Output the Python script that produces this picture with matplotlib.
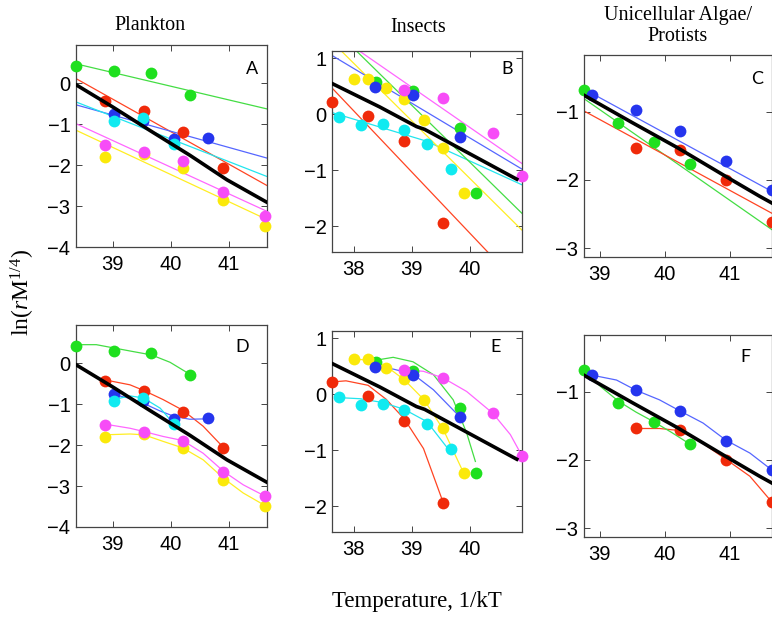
import matplotlib
matplotlib.use('Agg')
import matplotlib.pyplot as plt

# ---------------- Plankton (A / D) ----------------
pl_green_x = [38.37, 39.02, 39.67, 40.34]
pl_green_y = [0.42, 0.30, 0.24, -0.30]
pl_red_x = [38.87, 39.54, 40.21, 40.91]
pl_red_y = [-0.43, -0.68, -1.19, -2.06]
pl_blue_x = [39.02, 39.53, 40.06, 40.64]
pl_blue_y = [-0.75, -0.93, -1.37, -1.35]
pl_cyan_x = [39.02, 39.53, 40.06]
pl_cyan_y = [-0.93, -0.84, -1.49]
pl_mag_x = [38.87, 39.54, 40.21, 40.91, 41.63]
pl_mag_y = [-1.50, -1.67, -1.91, -2.66, -3.25]
pl_yel_x = [38.87, 39.54, 40.21, 40.91, 41.63]
pl_yel_y = [-1.80, -1.72, -2.06, -2.85, -3.48]

# linear fits (A), end points
pl_fit_x = [38.37, 41.66]
pl_fit_green = [0.47, -0.63]
pl_fit_red = [0.11, -2.50]
pl_fit_blue = [-0.53, -1.83]
pl_fit_cyan = [-0.46, -2.28]
pl_fit_mag = [-0.99, -3.13]
pl_fit_yel = [-1.15, -3.33]
pl_black_x = [38.37, 39.0, 39.67, 40.33, 40.97, 41.66]
pl_black_y = [-0.04, -0.58, -1.18, -1.76, -2.36, -2.91]

# curved fits (D)
pl_cg_x = [38.37, 38.72, 39.02, 39.36, 39.67, 39.99, 40.34]
pl_cg_y = [0.45, 0.45, 0.37, 0.28, 0.20, 0.02, -0.28]
pl_cr_x = [38.87, 39.30, 39.54, 39.87, 40.21, 40.56, 40.91]
pl_cr_y = [-0.41, -0.53, -0.67, -0.89, -1.15, -1.54, -2.06]
pl_cb_x = [39.02, 39.30, 39.53, 39.82, 40.06, 40.33, 40.64]
pl_cb_y = [-0.77, -0.86, -0.98, -1.17, -1.30, -1.37, -1.36]
pl_cc_x = [39.02, 39.30, 39.53, 39.82, 40.06]
pl_cc_y = [-0.89, -0.80, -0.85, -1.10, -1.49]
pl_cm_x = [38.87, 39.30, 39.54, 39.87, 40.21, 40.56, 40.91, 41.25, 41.63]
pl_cm_y = [-1.49, -1.59, -1.67, -1.79, -1.89, -2.20, -2.64, -2.97, -3.25]
pl_cy_x = [38.87, 39.30, 39.54, 39.87, 40.21, 40.56, 40.91, 41.25, 41.63]
pl_cy_y = [-1.75, -1.73, -1.75, -1.91, -2.07, -2.36, -2.81, -3.17, -3.48]

# ---------------- Insects (B / E) ----------------
in_red_x = [37.63, 38.25, 38.87, 39.54]
in_red_y = [0.22, -0.03, -0.47, -1.94]
in_cyan_x = [37.75, 38.12, 38.51, 38.87, 39.26, 39.67]
in_cyan_y = [-0.04, -0.20, -0.18, -0.28, -0.53, -0.97]
in_yel_x = [38.0, 38.25, 38.56, 38.87, 39.21, 39.54, 39.89]
in_yel_y = [0.63, 0.63, 0.47, 0.28, -0.11, -0.60, -1.41]
in_green_x = [38.39, 39.02, 39.82, 40.10]
in_green_y = [0.58, 0.42, -0.25, -1.41]
in_blue_x = [38.37, 39.02, 39.82]
in_blue_y = [0.48, 0.35, -0.40]
in_mag_x = [38.86, 39.54, 40.39, 40.89]
in_mag_y = [0.44, 0.29, -0.34, -1.10]

in_fit_red_x, in_fit_red_y = [37.63, 40.32], [0.47, -2.48]
in_fit_cyan_x, in_fit_cyan_y = [37.63, 39.25, 40.89], [0.03, -0.48, -1.26]
in_fit_yel_x, in_fit_yel_y = [37.79, 40.89], [1.13, -2.07]
in_fit_green_x, in_fit_green_y = [38.05, 40.89], [1.13, -1.77]
in_fit_blue_x, in_fit_blue_y = [37.63, 40.89], [1.05, -0.98]
in_fit_mag_x, in_fit_mag_y = [38.10, 40.89], [1.13, -0.88]
in_black_x = [37.63, 38.45, 39.08, 39.22, 40.80]
in_black_y = [0.55, 0.13, -0.22, -0.27, -1.16]

in_cr_x = [37.63, 37.87, 38.25, 38.56, 38.87, 39.20, 39.54]
in_cr_y = [0.22, 0.24, 0.16, -0.09, -0.44, -0.97, -1.94]
in_cc_x = [37.75, 38.12, 38.51, 38.87, 39.26, 39.67]
in_cc_y = [-0.06, -0.08, -0.15, -0.27, -0.49, -1.04]
in_cy_x = [38.0, 38.25, 38.56, 38.87, 39.21, 39.54, 39.89]
in_cy_y = [0.63, 0.61, 0.50, 0.26, -0.10, -0.63, -1.41]
in_cg_x = [38.39, 38.68, 39.02, 39.37, 39.71, 39.94, 40.09]
in_cg_y = [0.61, 0.66, 0.58, 0.35, -0.10, -0.69, -1.20]
in_cb_x = [38.37, 38.68, 39.02, 39.37, 39.82]
in_cb_y = [0.48, 0.45, 0.36, 0.08, -0.40]
in_cm_x = [38.85, 39.20, 39.54, 39.94, 40.39, 40.69, 40.89]
in_cm_y = [0.44, 0.41, 0.29, 0.05, -0.34, -0.72, -1.10]

# ---------------- Unicellular algae / protists (C / F) ----------------
al_green_x = [38.76, 39.29, 39.83, 40.39]
al_green_y = [-0.69, -1.16, -1.44, -1.77]
al_red_x = [39.56, 40.23, 40.94, 41.65]
al_red_y = [-1.54, -1.56, -2.00, -2.62]
al_blue_x = [38.89, 39.56, 40.23, 40.94, 41.65]
al_blue_y = [-0.75, -0.98, -1.29, -1.72, -2.15]

al_fit_x = [38.76, 41.65]
al_fit_green = [-0.81, -2.73]
al_fit_red = [-0.99, -2.49]
al_fit_blue = [-0.67, -2.17]
al_black_x = [38.76, 39.5, 40.2, 40.94, 41.46, 41.65]
al_black_y = [-0.76, -1.16, -1.53, -1.95, -2.24, -2.34]

al_cb_x = [38.89, 39.26, 39.56, 39.92, 40.23, 40.59, 40.94, 41.31, 41.65]
al_cb_y = [-0.76, -0.83, -0.98, -1.12, -1.28, -1.46, -1.71, -1.90, -2.15]
al_cr_x = [39.56, 39.92, 40.23, 40.59, 40.94, 41.31, 41.65]
al_cr_y = [-1.54, -1.54, -1.57, -1.76, -1.99, -2.24, -2.62]
al_cg_x = [38.76, 39.02, 39.29, 39.56, 39.83, 40.11, 40.39]
al_cg_y = [-0.69, -0.93, -1.14, -1.30, -1.44, -1.60, -1.77]

col_titles = ['Plankton', 'Insects', 'Unicellular Algae/\nProtists']

# colours
GREEN = '#1fe01f'
RED = '#f02a0a'
BLUE = '#2535ee'
CYAN = '#10eaf0'
MAG = '#f74cf7'
YEL = '#fbe90a'
LGREEN = '#44dd44'
LRED = '#ff4422'
LBLUE = '#5566ff'
LCYAN = '#22e5ee'
LMAG = '#ff66ff'
LYEL = '#ffee22'

plt.rcParams['font.family'] = ['Liberation Sans', 'DejaVu Sans']
plt.rcParams['mathtext.fontset'] = 'custom'
plt.rcParams['mathtext.rm'] = 'Liberation Serif'
plt.rcParams['mathtext.it'] = 'Liberation Serif:italic'

W, H = 772, 623
fig = plt.figure(figsize=(W / 100, H / 100), dpi=100)


def add_ax(l, r, t, b):
    return fig.add_axes([l / W, 1 - b / H, (r - l) / W, (b - t) / H])


def style(ax, xlim, ylim, xt, yt, letter, lx, ly):
    ax.set_xlim(xlim)
    ax.set_ylim(ylim)
    ax.set_xticks(xt)
    ax.set_yticks(yt)
    ax.tick_params(direction='in', top=True, right=True, length=4,
                   width=0.7, labelsize=14.5, color='#444444')
    ax.tick_params(axis='x', pad=6)
    ax.tick_params(axis='y', pad=4)
    for s in ax.spines.values():
        s.set_color('#444444')
        s.set_linewidth(0.9)
    ax.text(lx, ly, letter, transform=ax.transAxes, fontsize=13,
            family='Lato', ha='center', va='center')


def dots(ax, sets):
    for x, y, c in sets:
        ax.plot(x, y, 'o', color=c, markersize=8.5, markeredgewidth=0,
                clip_on=False, zorder=3)


def lines(ax, sets):
    for x, y, c in sets:
        ax.plot(x, y, '-', color=c, linewidth=0.9, zorder=2)


def black(ax, x, y):
    ax.plot(x, y, '-', color='black', linewidth=2.6, zorder=4)


pl_dots = [(pl_green_x, pl_green_y, GREEN), (pl_red_x, pl_red_y, RED),
           (pl_yel_x, pl_yel_y, YEL), (pl_blue_x, pl_blue_y, BLUE),
           (pl_cyan_x, pl_cyan_y, CYAN), (pl_mag_x, pl_mag_y, MAG)]
in_dots = [(in_green_x, in_green_y, GREEN), (in_red_x, in_red_y, RED),
           (in_yel_x, in_yel_y, YEL), (in_blue_x, in_blue_y, BLUE),
           (in_cyan_x, in_cyan_y, CYAN), (in_mag_x, in_mag_y, MAG)]
al_dots = [(al_green_x, al_green_y, GREEN), (al_red_x, al_red_y, RED),
           (al_blue_x, al_blue_y, BLUE)]

pl_lim = dict(xlim=(38.37, 41.66), ylim=(-4, 0.93), xt=[39, 40, 41], yt=[-4, -3, -2, -1, 0])
in_lim = dict(xlim=(37.63, 40.89), ylim=(-2.46, 1.13), xt=[38, 39, 40], yt=[-2, -1, 0, 1])
al_lim = dict(xlim=(38.76, 41.65), ylim=(-3.13, -0.17), xt=[39, 40, 41], yt=[-3, -2, -1])

# A
ax = add_ax(76, 267, 45, 247)
lines(ax, [(pl_fit_x, pl_fit_green, LGREEN), (pl_fit_x, pl_fit_red, LRED),
           (pl_fit_x, pl_fit_blue, LBLUE), (pl_fit_x, pl_fit_cyan, LCYAN),
           (pl_fit_x, pl_fit_mag, LMAG), (pl_fit_x, pl_fit_yel, LYEL)])
dots(ax, pl_dots)
black(ax, pl_black_x, pl_black_y)
style(ax, **pl_lim, letter='A', lx=0.92, ly=0.88)

# B
ax = add_ax(332, 522, 51, 252)
lines(ax, [(in_fit_red_x, in_fit_red_y, LRED), (in_fit_cyan_x, in_fit_cyan_y, LCYAN),
           (in_fit_yel_x, in_fit_yel_y, LYEL), (in_fit_green_x, in_fit_green_y, LGREEN),
           (in_fit_blue_x, in_fit_blue_y, LBLUE), (in_fit_mag_x, in_fit_mag_y, LMAG)])
dots(ax, in_dots)
black(ax, in_black_x, in_black_y)
style(ax, **in_lim, letter='B', lx=0.92, ly=0.91)

# C
ax = add_ax(584, 772, 55, 257)
lines(ax, [(al_fit_x, al_fit_green, LGREEN), (al_fit_x, al_fit_red, LRED),
           (al_fit_x, al_fit_blue, LBLUE)])
dots(ax, al_dots)
black(ax, al_black_x, al_black_y)
style(ax, **al_lim, letter='C', lx=0.92, ly=0.88)

# D
ax = add_ax(76, 267, 325, 527)
lines(ax, [(pl_cg_x, pl_cg_y, LGREEN), (pl_cr_x, pl_cr_y, LRED),
           (pl_cb_x, pl_cb_y, LBLUE), (pl_cc_x, pl_cc_y, LCYAN),
           (pl_cm_x, pl_cm_y, LMAG), (pl_cy_x, pl_cy_y, LYEL)])
dots(ax, pl_dots)
black(ax, pl_black_x, pl_black_y)
style(ax, **pl_lim, letter='D', lx=0.87, ly=0.89)

# E
ax = add_ax(332, 522, 331, 532)
lines(ax, [(in_cr_x, in_cr_y, LRED), (in_cc_x, in_cc_y, LCYAN),
           (in_cy_x, in_cy_y, LYEL), (in_cg_x, in_cg_y, LGREEN),
           (in_cb_x, in_cb_y, LBLUE), (in_cm_x, in_cm_y, LMAG)])
dots(ax, in_dots)
black(ax, in_black_x, in_black_y)
style(ax, **in_lim, letter='E', lx=0.86, ly=0.92)

# F
ax = add_ax(584, 772, 335, 537)
lines(ax, [(al_cb_x, al_cb_y, LBLUE), (al_cr_x, al_cr_y, LRED),
           (al_cg_x, al_cg_y, LGREEN)])
dots(ax, al_dots)
black(ax, al_black_x, al_black_y)
style(ax, **al_lim, letter='F', lx=0.86, ly=0.89)

# column titles and axis labels
serif = ['Liberation Serif', 'DejaVu Serif']
fig.text(150 / W, 1 - 26 / H, col_titles[0], ha='center', va='center',
         family=serif, fontsize=14.5)
fig.text(418 / W, 1 - 28 / H, col_titles[1], ha='center', va='center',
         family=serif, fontsize=14.5)
fig.text(678 / W, 1 - 26 / H, col_titles[2], ha='center', va='center',
         family=serif, fontsize=14.5, linespacing=1.15)
fig.text(417 / W, 1 - 601 / H, 'Temperature, 1/kT', ha='center', va='center',
         family=serif, fontsize=16.5)
fig.text(23 / W, 1 - 292 / H, r'ln($r$M$^{1/4}$)', ha='center', va='center',
         family=serif, fontsize=17, rotation=90)

fig.savefig('out.png', dpi=100)
